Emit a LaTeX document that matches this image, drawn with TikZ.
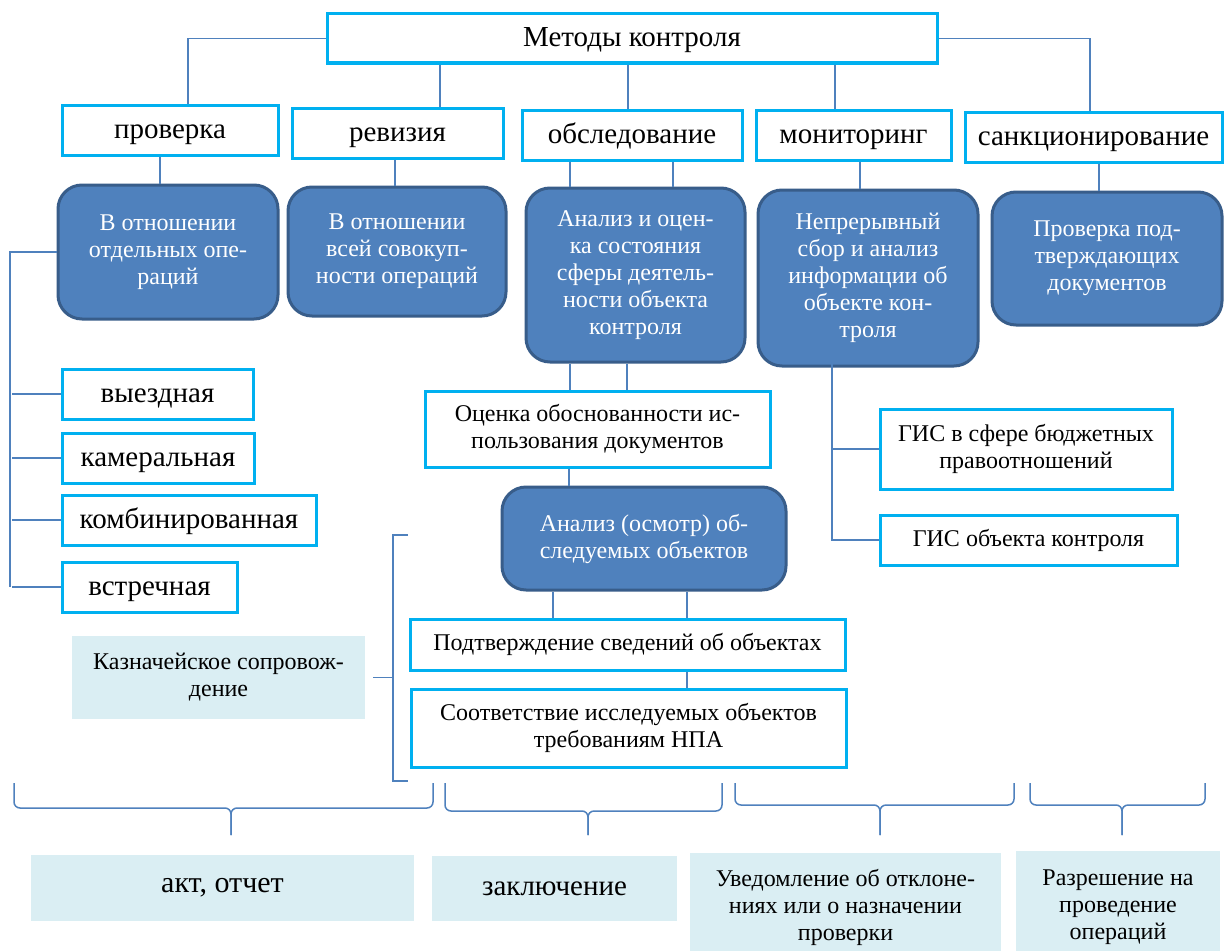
\documentclass[tikz,border=0pt]{standalone}
\usepackage{fontspec}
\setmainfont{Liberation Serif}
\usetikzlibrary{positioning}
\definecolor{cyanb}{HTML}{00B0F0}
\definecolor{blueb}{HTML}{4F81BD}
\definecolor{bluebd}{HTML}{385D8A}
\definecolor{lightb}{HTML}{DAEEF3}
\tikzset{
    nodew/.style = {rectangle, line width=3pt, draw=cyanb, fill=white, align=center, inner sep=0pt, font=\fontsize{29}{32}\selectfont, text=black, text height=23pt, text depth=6pt},
    nodews/.style = {rectangle, line width=3pt, draw=cyanb, fill=white, align=center, inner sep=0pt, font=\fontsize{24}{27}\selectfont, text=black},
    nodeb/.style = {rectangle, rounded corners=24pt, line width=3pt, draw=bluebd, fill=blueb, align=center, inner sep=0pt, font=\fontsize{24}{27}\selectfont, text=white},
    nodel/.style = {rectangle, fill=lightb, align=center, inner sep=0pt, font=\fontsize{24}{27}\selectfont, text=black},
    edgen/.style = {-, line width=1.5pt, blueb},
    edgeb/.style = {-, line width=1.5pt, blueb, rounded corners=6pt}, % braces
}
\begin{document}
\begin{tikzpicture}[x=1pt, y=-1pt]
  \fill[white] (0,0) rectangle (1225,950);
  \useasboundingbox (0,0) rectangle (1225,950);
  % top
  \node[nodew, minimum width=610pt, minimum height=49pt] (top) at (632,38.5) {Методы контроля};
  % methods
  \node[nodew, minimum width=216pt, minimum height=50pt] (prov) at (170,130) {проверка};
  \node[nodew, minimum width=211pt, minimum height=50pt] (rev) at (397.5,133) {ревизия};
  \node[nodew, minimum width=220pt, minimum height=50pt] (obs) at (632,135) {обследование};
  \node[nodew, minimum width=195pt, minimum height=50pt] (mon) at (853.5,135) {мониторинг};
  \node[nodew, minimum width=257pt, minimum height=50pt] (sank) at (1093.5,137) {санкционирование};
  % descriptions
  \node[nodeb, minimum width=220pt, minimum height=134pt] (a1) at (168,252) {В отношении\\ отдельных опе-\\ раций};
  \node[nodeb, minimum width=218pt, minimum height=129pt] (a2) at (397,251.5) {В отношении\\ всей совокуп-\\ ности операций};
  \node[nodeb, minimum width=219pt, minimum height=174pt] (a3) at (635.5,275) {Анализ и оцен-\\ ка состояния\\ сферы деятель-\\ ности объекта\\ контроля};
  \node[nodeb, minimum width=220pt, minimum height=176pt] (a4) at (868,278) {Непрерывный\\ сбор и анализ\\ информации об\\ объекте кон-\\ троля};
  \node[nodeb, minimum width=230pt, minimum height=133pt] (a5) at (1107,258.5) {Проверка под-\\ тверждающих\\ документов};
  % kinds of checks
  \node[nodew, minimum width=191pt, minimum height=50pt] (vyezd) at (157.5,394) {выездная};
  \node[nodew, minimum width=192pt, minimum height=50pt] (kamer) at (158,458) {камеральная};
  \node[nodew, minimum width=254pt, minimum height=50pt] (komb) at (189,520) {комбинированная};
  \node[nodew, minimum width=175pt, minimum height=50pt] (vstr) at (149.5,587) {встречная};
  \node[nodel, minimum width=293pt, minimum height=83pt] (kazn) at (218.5,677.5) {Казначейское сопровож-\\ дение};
  % survey chain
  \node[nodews, minimum width=345pt, minimum height=76pt] (ocen) at (597.5,429) {Оценка обоснованности ис-\\ пользования документов};
  \node[nodeb, minimum width=284pt, minimum height=103pt] (anal) at (644,538.5) {Анализ (осмотр) об-\\ следуемых объектов};
  \node[nodews, minimum width=435pt, minimum height=51pt] (podtv) at (627.5,644.5) {Подтверждение сведений об объектах};
  \node[nodews, minimum width=435pt, minimum height=78pt] (sootv) at (628.5,728) {Соответствие исследуемых объектов\\ требованиям НПА};
  % monitoring
  \node[nodews, minimum width=292pt, minimum height=80pt] (gis1) at (1026,449) {ГИС в сфере бюджетных\\ правоотношений};
  \node[nodews, minimum width=297pt, minimum height=50pt] (gis2) at (1028.5,540) {ГИС объекта контроля};
  % results
  \node[nodel, minimum width=383pt, minimum height=66pt, font=\fontsize{30}{33}\selectfont] (akt) at (222.5,888) {акт, отчет};
  \node[nodel, minimum width=245pt, minimum height=65pt, font=\fontsize{29}{32}\selectfont] (zakl) at (554.5,888.5) {заключение};
  \node[nodel, minimum width=311pt, minimum height=108pt] (uved) at (845.5,907) {Уведомление об отклоне-\\ ниях или о назначении\\ проверки};
  \node[nodel, minimum width=204pt, minimum height=112pt] (razr) at (1118,907) {Разрешение на\\ проведение\\ операций};

  % edges
  \draw[edgen] (top.west) -| (prov.north -| 188,0);
  \draw[edgen] (top.south -| 440,0) -- (rev.north -| 440,0);
  \draw[edgen] (top.south -| 628,0) -- (obs.north -| 628,0);
  \draw[edgen] (top.south -| 835,0) -- (mon.north -| 835,0);
  \draw[edgen] (top.east) -| (sank.north -| 1090,0);
  \draw[edgen] (prov.south -| 160,0) -- (a1.north -| 160,0);
  \draw[edgen] (rev.south -| 395,0) -- (a2.north -| 395,0);
  \draw[edgen] (obs.south -| 570,0) -- (a3.north -| 570,0);
  \draw[edgen] (obs.south -| 673,0) -- (a3.north -| 673,0);
  \draw[edgen] (mon.south -| 860,0) -- (a4.north -| 860,0);
  \draw[edgen] (sank.south -| 1099,0) -- (a5.north -| 1099,0);
  \draw[edgen] (a1.west) -| (vstr.west -| 10,0);
  \foreach \k in {vyezd, kamer, komb, vstr}
    \draw[edgen] (\k.west) -- (\k.west -| 12,0);
  \draw[edgen] (a3.south -| 570,0) -- (ocen.north -| 570,0);
  \draw[edgen] (a3.south -| 627,0) -- (ocen.north -| 627,0);
  \draw[edgen] (ocen.south -| 569,0) -- (anal.north -| 569,0);
  \draw[edgen] (anal.south -| 553,0) -- (podtv.north -| 553,0);
  \draw[edgen] (anal.south -| 687,0) -- (podtv.north -| 687,0);
  \draw[edgen] (podtv.south -| 687,0) -- (sootv.north -| 687,0);
  \draw[edgen] ([yshift=8pt]a4.south -| 832,0) |- (gis2.west);
  \draw[edgen] (gis1.west) -- (gis1.west -| 832,0);
  \draw[edgen] (408,535) -| (393,781) -- (408,781);
  \draw[edgen] ([xshift=8pt]kazn.east) -- (kazn.east -| 393,0);
  % braces
  \foreach \l/\r/\t/\m in {14/433/231/808, 445/722/588/811, 735/1014/880/805, 1030/1205/1122/805} {
    \draw[edgeb] (\l,783) |- (\t,\m) -- (\t,835);
    \draw[edgeb] (\r,783) |- (\t,\m) -- (\t,835);
  }
\end{tikzpicture}
\end{document}
